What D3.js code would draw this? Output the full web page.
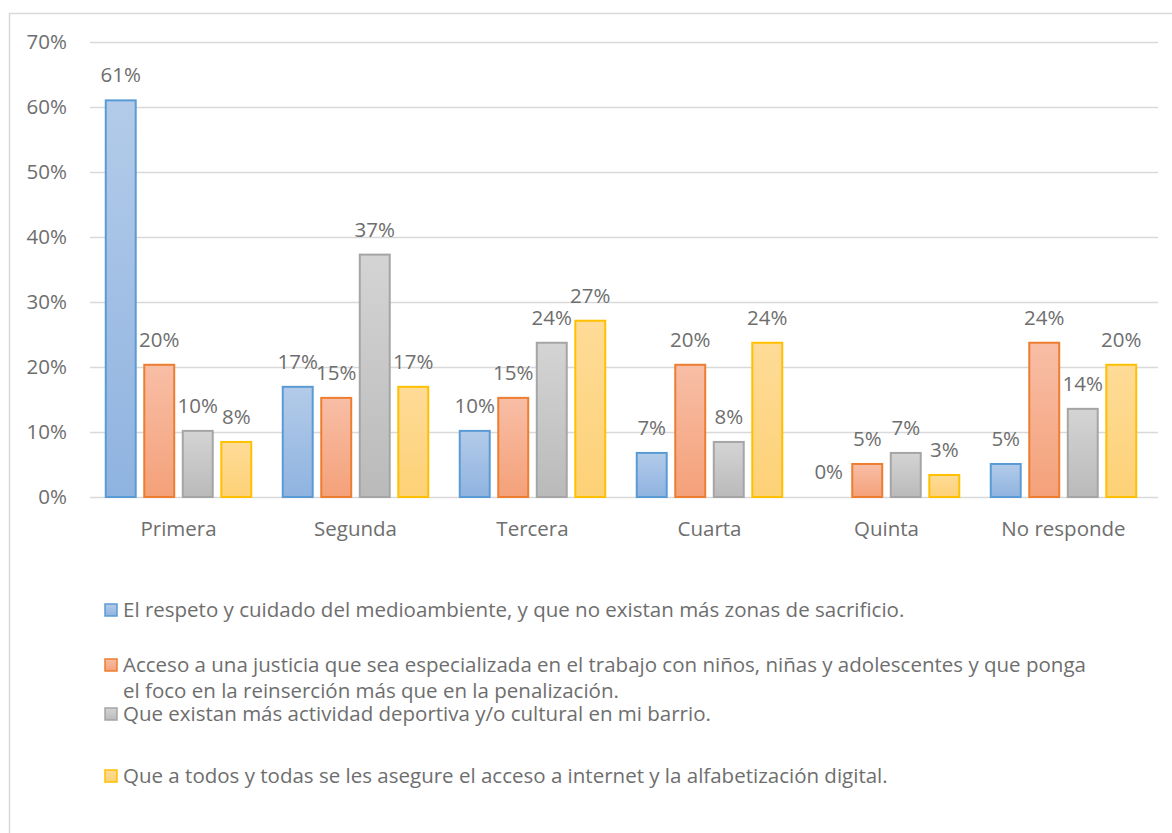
<!DOCTYPE html>
<html>
<head>
<meta charset="utf-8">
<script src="https://cdn.jsdelivr.net/npm/d3@7"></script>
<style>
  html, body { margin: 0; padding: 0; background: #fff; }
  svg { display: block; font-family: "Open Sans", sans-serif; }
</style>
</head>
<body>
<div id="chart"></div>
<script>
// Data (shares of 59 responses, in %)
const categories = ["Primera", "Segunda", "Tercera", "Cuarta", "Quinta", "No responde"];
const seriesKeys = ["medioambiente", "justicia", "deporte", "internet"];
const medioambiente = [61.02, 16.95, 10.17, 6.78, 0.0, 5.08];
const justicia      = [20.34, 15.25, 15.25, 20.34, 5.08, 23.73];
const deporte       = [10.17, 37.29, 23.73, 8.47, 6.78, 13.56];
const internet      = [8.47, 16.95, 27.12, 23.73, 3.39, 20.34];
const yTicks = [0, 10, 20, 30, 40, 50, 60, 70];
const legendLines = [
  ["El respeto y cuidado del medioambiente, y que no existan más zonas de sacrificio."],
  ["Acceso a una justicia que sea especializada en el trabajo con niños, niñas y adolescentes y que ponga",
   "el foco en la reinserción más que en la penalización."],
  ["Que existan más actividad deportiva y/o cultural en mi barrio."],
  ["Que a todos y todas se les asegure el acceso a internet y la alfabetización digital."]
];

const seriesValues = [medioambiente, justicia, deporte, internet];

const styles = [
  { top: "#b3cbe9", bottom: "#8fb3e0", stroke: "#5b9bd5" },
  { top: "#f8bea6", bottom: "#f4a179", stroke: "#ed7d31" },
  { top: "#d4d4d4", bottom: "#bababa", stroke: "#a5a5a5" },
  { top: "#fedb97", bottom: "#fdd176", stroke: "#ffc000" }
];

const W = 1172, H = 833;
const textColor = "#6e6e6e";
const gridColor = "#d9d9d9";
const fontSize = "20.5px";

const svg = d3.select("#chart").append("svg")
  .attr("width", W).attr("height", H);

// gradients
const defs = svg.append("defs");
styles.forEach((s, i) => {
  const g = defs.append("linearGradient")
    .attr("id", "grad" + i)
    .attr("x1", 0).attr("y1", 0).attr("x2", 0).attr("y2", 1);
  g.append("stop").attr("offset", "0%").attr("stop-color", s.top);
  g.append("stop").attr("offset", "100%").attr("stop-color", s.bottom);
});

// chart frame
svg.append("rect")
  .attr("x", 9.5).attr("y", 13.5)
  .attr("width", W + 20).attr("height", H + 20)
  .attr("fill", "none")
  .attr("stroke", gridColor)
  .attr("stroke-width", 1.5);

const plotLeft = 90, plotRight = 1158;
const y = d3.scaleLinear().domain([0, 70]).range([497, 42]);
const x0 = d3.scaleBand().domain(categories).range([plotLeft, plotLeft + 177 * 6]).padding(0);
const x1 = d3.scaleBand().domain(seriesKeys).range([0, x0.bandwidth()])
  .paddingInner(0.17).paddingOuter(0.383);

// gridlines
svg.append("g")
  .selectAll("line")
  .data(yTicks)
  .join("line")
  .attr("x1", plotLeft).attr("x2", plotRight)
  .attr("y1", d => Math.round(y(d)) + 0.5).attr("y2", d => Math.round(y(d)) + 0.5)
  .attr("stroke", gridColor)
  .attr("stroke-width", 1.5);

// y tick labels
svg.append("g")
  .selectAll("text")
  .data(yTicks)
  .join("text")
  .attr("x", 67)
  .attr("y", d => y(d))
  .attr("dy", "0.36em")
  .attr("text-anchor", "end")
  .attr("fill", textColor)
  .style("font-size", fontSize)
  .text(d => d + "%");

// category labels
svg.append("g")
  .selectAll("text")
  .data(categories)
  .join("text")
  .attr("x", d => x0(d) + x0.bandwidth() / 2)
  .attr("y", 536)
  .attr("text-anchor", "middle")
  .attr("fill", textColor)
  .style("font-size", fontSize)
  .text(d => d);

// bars
const groups = svg.append("g")
  .selectAll("g")
  .data(categories)
  .join("g")
  .attr("transform", d => `translate(${x0(d)},0)`);

groups.selectAll("rect")
  .data((c, ci) => seriesKeys.map((k, si) => ({ key: k, si, v: seriesValues[si][ci] })))
  .join("rect")
  .filter(d => d.v > 0)
  .attr("x", d => x1(d.key) + 1)
  .attr("width", x1.bandwidth() - 2)
  .attr("y", d => y(d.v))
  .attr("height", d => y(0) - y(d.v))
  .attr("fill", d => `url(#grad${d.si})`)
  .attr("stroke", d => styles[d.si].stroke)
  .attr("stroke-width", 2);

// data labels
groups.selectAll("text")
  .data((c, ci) => seriesKeys.map((k, si) => ({ key: k, si, v: seriesValues[si][ci] })))
  .join("text")
  .attr("x", d => x1(d.key) + x1.bandwidth() / 2)
  .attr("y", d => y(d.v) - 18)
  .attr("text-anchor", "middle")
  .attr("fill", textColor)
  .style("font-size", fontSize)
  .text(d => Math.round(d.v) + "%");

// legend
const legendBaselines = [617, 672, 721, 783];
const legend = svg.append("g");
legendLines.forEach((lines, i) => {
  const b = legendBaselines[i];
  legend.append("rect")
    .attr("x", 105).attr("y", b - 13)
    .attr("width", 12).attr("height", 12)
    .attr("fill", `url(#grad${i})`)
    .attr("stroke", styles[i].stroke)
    .attr("stroke-width", 1.5);
  lines.forEach((line, j) => {
    legend.append("text")
      .attr("x", 123)
      .attr("y", b + j * 26)
      .attr("fill", textColor)
      .style("font-size", fontSize)
      .text(line);
  });
});
</script>
</body>
</html>
